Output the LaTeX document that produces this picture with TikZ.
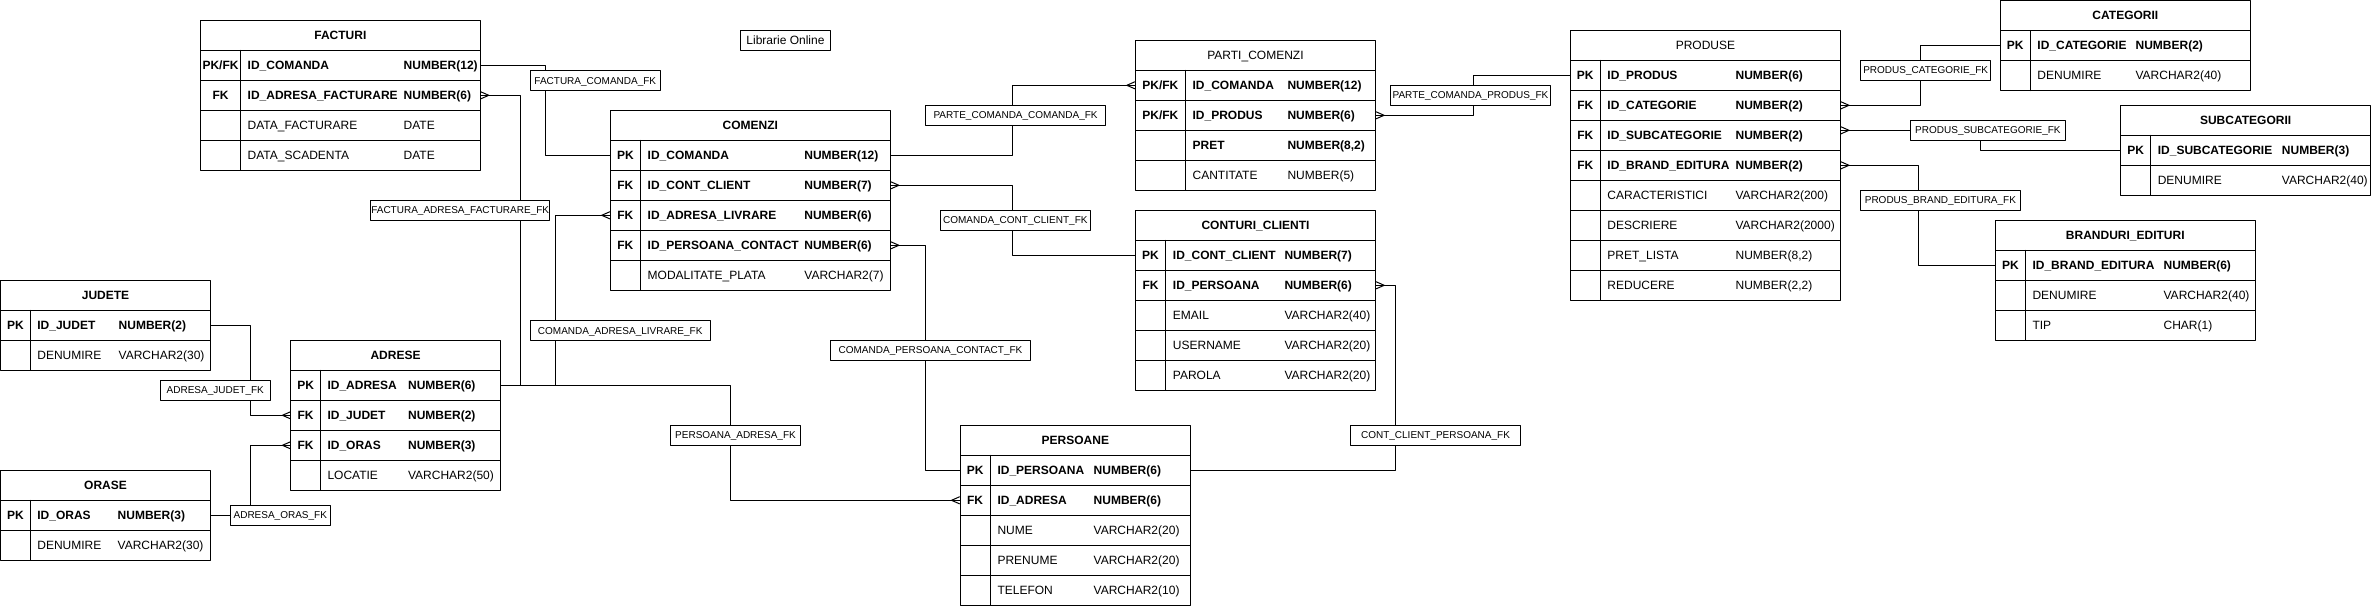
\documentclass[tikz,border=0pt]{standalone}
\usepackage{fontspec}
\setmainfont{Liberation Sans}
\usetikzlibrary{decorations.markings}
%Tabel: nume, stanga, sus, latime, coloana cheie, coloana tip, titlu, randuri.
\newcommand{\tabel}[8]{%
	\node[antet, minimum width=#4] (#1) at ({#2+#4/2},{#3+15}) {#7};
	\foreach \ch/\nm/\tp/\gr [count=\i] in {#8}{
		\node[rand, minimum width=#4] (#1-\i) at ({#2+#4/2},{#3+15+30*\i}) {};
		\draw[legatura] ({#2+#5},{#3+30*\i})--({#2+#5},{#3+30+30*\i});
		\node[text12, \gr] at ({#2+#5/2},{#3+15+30*\i}) {\ch};
		\node[text12, \gr, anchor=west] at ({#2+#5+7},{#3+15+30*\i}) {\nm};
		\node[text12, \gr, anchor=west] at ({#2+#6},{#3+15+30*\i}) {\tp};
	}
}
\begin{document}
\begin{tikzpicture}[x=1pt, y=-1pt, line join=round, line cap=round,
	legatura/.style={line width=1pt},
	antet/.style={draw, line width=1pt, minimum height=30, inner sep=0, text height=9.6, text depth=1, font=\fontsize{12}{14}\selectfont\bfseries},
	rand/.style={draw, line width=1pt, minimum height=30, inner sep=0},
	text12/.style={inner sep=0, text height=9.6, text depth=1},
	grs/.style={font=\fontsize{12}{14}\selectfont\bfseries},
	nrm/.style={font=\fontsize{12}{14}\selectfont},
	eticheta/.style={draw, fill=white, line width=1pt, minimum height=20, inner sep=0, text height=8.2, text depth=1, font=\fontsize{10}{12}\selectfont},
	multe/.style={postaction={decorate, decoration={markings, mark=at position -8pt with {\draw[line width=1pt] (8pt,3.5pt)--(0,0)--(8pt,-3.5pt);}}}}]
	\useasboundingbox (0,0) rectangle (2371,606);
	%Titlu.
	\node[draw, line width=1pt, minimum width=90.3, minimum height=20, inner sep=0, font=\fontsize{12}{14}\selectfont] (titlu) at (785.5,40.3) {Librarie Online};
	%Tabele.
	\tabel{fac}{200.5}{20.3}{279.8}{40}{203}{FACTURI}{{PK/FK}/ID\_COMANDA/NUMBER(12)/grs, FK/ID\_ADRESA\_FACTURARE/NUMBER(6)/grs, /DATA\_FACTURARE/DATE/nrm, /DATA\_SCADENTA/DATE/nrm}
	\tabel{com}{610.2}{110.3}{280.2}{30.3}{194}{COMENZI}{PK/ID\_COMANDA/NUMBER(12)/grs, FK/ID\_CONT\_CLIENT/NUMBER(7)/grs, FK/ID\_ADRESA\_LIVRARE/NUMBER(6)/grs, FK/ID\_PERSOANA\_CONTACT/NUMBER(6)/grs, /MODALITATE\_PLATA/VARCHAR2(7)/nrm}
	\tabel{par}{1135.3}{40.3}{240.3}{50.1}{152}{\mdseries PARTI\_COMENZI}{{PK/FK}/ID\_COMANDA/NUMBER(12)/grs, {PK/FK}/ID\_PRODUS/NUMBER(6)/grs, /PRET/{NUMBER(8,2)}/grs, /CANTITATE/NUMBER(5)/nrm}
	\tabel{con}{1135.3}{210.3}{240.4}{30.4}{149}{CONTURI\_CLIENTI}{PK/ID\_CONT\_CLIENT/NUMBER(7)/grs, FK/ID\_PERSOANA/NUMBER(6)/grs, /EMAIL/VARCHAR2(40)/nrm, /USERNAME/VARCHAR2(20)/nrm, /PAROLA/VARCHAR2(20)/nrm}
	\tabel{per}{960}{425.3}{230.7}{30.3}{133.5}{PERSOANE}{PK/ID\_PERSOANA/NUMBER(6)/grs, FK/ID\_ADRESA/NUMBER(6)/grs, /NUME/VARCHAR2(20)/nrm, /PRENUME/VARCHAR2(20)/nrm, /TELEFON/VARCHAR2(10)/nrm}
	\tabel{pro}{1570.4}{30.3}{270.1}{29.8}{165}{\mdseries PRODUSE}{PK/ID\_PRODUS/NUMBER(6)/grs, FK/ID\_CATEGORIE/NUMBER(2)/grs, FK/ID\_SUBCATEGORIE/NUMBER(2)/grs, FK/ID\_BRAND\_EDITURA/NUMBER(2)/grs, /CARACTERISTICI/VARCHAR2(200)/nrm, /DESCRIERE/VARCHAR2(2000)/nrm, /PRET\_LISTA/{NUMBER(8,2)}/nrm, /REDUCERE/{NUMBER(2,2)}/nrm}
	\tabel{cat}{2000.4}{0.5}{249.9}{29.8}{135}{CATEGORII}{PK/ID\_CATEGORIE/NUMBER(2)/grs, /DENUMIRE/VARCHAR2(40)/nrm}
	\tabel{sub}{2120.7}{105.3}{249.8}{29.9}{161}{SUBCATEGORII}{PK/ID\_SUBCATEGORIE/NUMBER(3)/grs, /DENUMIRE/VARCHAR2(40)/nrm}
	\tabel{bra}{1995.4}{220.3}{259.8}{29.9}{168}{BRANDURI\_EDITURI}{PK/ID\_BRAND\_EDITURA/NUMBER(6)/grs, /DENUMIRE/VARCHAR2(40)/nrm, /TIP/CHAR(1)/nrm}
	\tabel{jud}{0.5}{280.3}{210}{29.7}{118}{JUDETE}{PK/ID\_JUDET/NUMBER(2)/grs, /DENUMIRE/VARCHAR2(30)/nrm}
	\tabel{ora}{0.5}{470.3}{210}{29.7}{117}{ORASE}{PK/ID\_ORAS/NUMBER(3)/grs, /DENUMIRE/VARCHAR2(30)/nrm}
	\tabel{adr}{290.9}{340.3}{209.3}{29.4}{117}{ADRESE}{PK/ID\_ADRESA/NUMBER(6)/grs, FK/ID\_JUDET/NUMBER(2)/grs, FK/ID\_ORAS/NUMBER(3)/grs, /LOCATIE/VARCHAR2(50)/nrm}
	%Legaturi.
	\draw[legatura] (fac-1.east) -| (545.3,110) |- (com-1.west);
	\draw[legatura, multe] (adr-1.east) -| (520.9,240) |- (fac-2.east);
	\draw[legatura, multe] (adr-1.east) -| (555.3,300) |- (com-3.west);
	\draw[legatura, multe] (adr-1.east) -| (730.4,440) |- (per-2.west);
	\draw[legatura, multe] (jud-1.east) -| (250.7,370) |- (adr-2.west);
	\draw[legatura, multe] (ora-1.east) -| (250.7,480) |- (adr-3.west);
	\draw[legatura, multe] (com-1.east) -| (1012.8,120) |- (par-1.west);
	\draw[legatura, multe] (con-1.west) -| (1012.8,220) |- (com-2.east);
	\draw[legatura, multe] (per-1.west) -| (925.6,350) |- (com-4.east);
	\draw[legatura, multe] (per-1.east) -| (1395.3,400) |- (con-2.east);
	\draw[legatura, multe] (pro-1.west) -| (1473.2,95) |- (par-2.east);
	\draw[legatura, multe] (cat-1.west) -| (1920.2,70) |- (pro-2.east);
	\draw[legatura, multe] (sub-1.west) -| (1980.4,140) |- ([yshift=5pt]pro-3.east);
	\draw[legatura, multe] (bra-1.west) -| (1918,200) |- (pro-4.east);
	%Etichete legaturi.
	\node[eticheta, minimum width=130] (eFC) at (595.3,80.7) {FACTURA\_COMANDA\_FK};
	\node[eticheta, minimum width=179.5] (eFAF) at (460.2,210.3) {FACTURA\_ADRESA\_FACTURARE\_FK};
	\node[eticheta, minimum width=180] (eCAL) at (620.2,330.5) {COMANDA\_ADRESA\_LIVRARE\_FK};
	\node[eticheta, minimum width=130.5] (ePA) at (735.5,435.3) {PERSOANA\_ADRESA\_FK};
	\node[eticheta, minimum width=110] (eAJ) at (215.3,390.3) {ADRESA\_JUDET\_FK};
	\node[eticheta, minimum width=100] (eAO) at (280.3,515.3) {ADRESA\_ORAS\_FK};
	\node[eticheta, minimum width=180] (ePCC) at (1015.6,115.3) {PARTE\_COMANDA\_COMANDA\_FK};
	\node[eticheta, minimum width=150] (eCCC) at (1015.3,220.3) {COMANDA\_CONT\_CLIENT\_FK};
	\node[eticheta, minimum width=200.5] (eCPC) at (930.5,350.3) {COMANDA\_PERSOANA\_CONTACT\_FK};
	\node[eticheta, minimum width=170] (eCCP) at (1435.5,435.3) {CONT\_CLIENT\_PERSOANA\_FK};
	\node[eticheta, minimum width=160] (ePCP) at (1470.5,95.3) {PARTE\_COMANDA\_PRODUS\_FK};
	\node[eticheta, minimum width=130] (ePC) at (1925.7,70.3) {PRODUS\_CATEGORIE\_FK};
	\node[eticheta, minimum width=155] (ePS) at (1987.9,130.3) {PRODUS\_SUBCATEGORIE\_FK};
	\node[eticheta, minimum width=160] (ePBE) at (1940.4,200.3) {PRODUS\_BRAND\_EDITURA\_FK};
\end{tikzpicture}
\end{document}
